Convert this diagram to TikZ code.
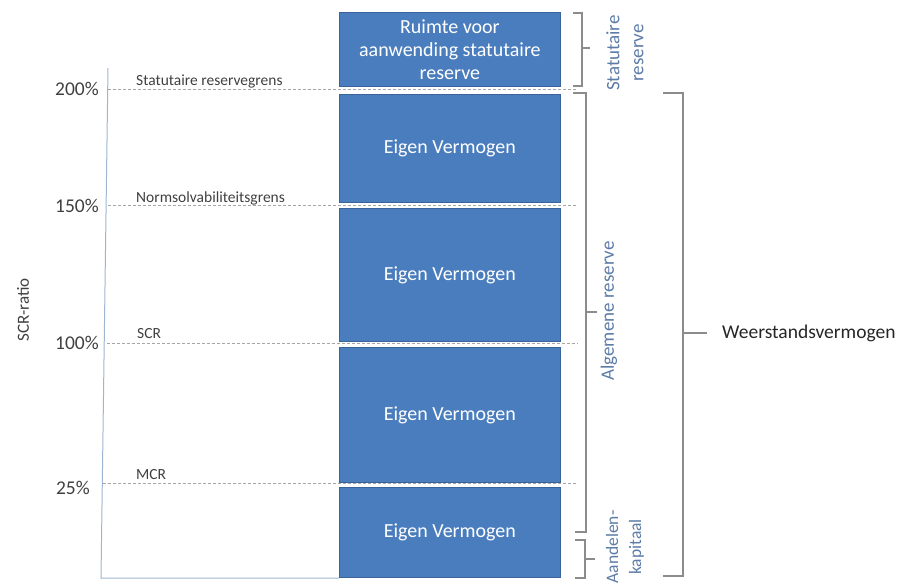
\documentclass[tikz,border=0pt]{standalone}
\usepackage{fontspec}
\setmainfont{Carlito}
\definecolor{boxblue}{HTML}{4A7DBD}
\definecolor{boxedge}{HTML}{3A6399}
\definecolor{bracegray}{HTML}{8C8C8C}
\definecolor{labblue}{HTML}{5C7BA6}
\definecolor{txtgray}{HTML}{404040}
\definecolor{axisblue}{HTML}{9FB6D3}
\definecolor{dashgray}{HTML}{A6A6A6}
\begin{document}
\begin{tikzpicture}[x=1pt,y=-1pt,
 blockbox/.style={draw=boxedge, line width=0.8pt, fill=boxblue, text=white, inner sep=0pt,
   anchor=north west, minimum width=221pt, align=center, font=\fontsize{20}{23}\selectfont},
 pct/.style={anchor=east, text=txtgray, inner sep=0pt, font=\fontsize{19.5}{22}\selectfont},
 grens/.style={anchor=west, text=txtgray, inner sep=0pt, font=\fontsize{15.5}{18}\selectfont},
 level/.style={draw=dashgray, dash pattern=on 3pt off 2pt, line width=0.8pt},
 bracket/.style={draw=bracegray, line width=1.1pt},
 sidelab/.style={rotate=90, text=labblue, align=center, inner sep=0pt, font=\fontsize{19}{24}\selectfont},
 axisline/.style={draw=axisblue, line width=1pt},
]
\useasboundingbox (0,0) rectangle (898,587);

% level lines (behind boxes)
\coordinate (l200a) at (108,89);  \coordinate (l200b) at (578,89);
\coordinate (l150a) at (108,205); \coordinate (l150b) at (578,205);
\coordinate (l100a) at (107,343); \coordinate (l100b) at (578,343);
\coordinate (l25a)  at (103,483); \coordinate (l25b)  at (578,483);
\draw[level] (l200a) -- (l200b);
\draw[level] (l150a) -- (l150b);
\draw[level] (l100a) -- (l100b);
\draw[level] (l25a) -- (l25b);

% boxes
\node[blockbox, minimum height=74pt]  (b1) at (339,12)  {Ruimte voor\\aanwending statutaire\\reserve};
\node[blockbox, minimum height=108pt] (b2) at (339,94)  {Eigen Vermogen};
\node[blockbox, minimum height=133pt] (b3) at (339,208) {Eigen Vermogen};
\node[blockbox, minimum height=135pt] (b4) at (339,347) {Eigen Vermogen};
\node[blockbox, minimum height=90pt]  (b5) at (339,487) {Eigen Vermogen};

% axis
\coordinate (axtop) at (108,68);
\coordinate (axbot) at (101,578);
\draw[axisline] (axtop) -- (axbot) -- (axbot -| b5.south west);

% percentages and level names
\node[pct] (p200) at (99,89)  {200\%};
\node[pct] (p150) at (99,206) {150\%};
\node[pct] (p100) at (99,343) {100\%};
\node[pct] (p25)  at (90,488) {25\%};
\node[grens] (g200) at (136,81)  {Statutaire reservegrens};
\node[grens] (g150) at (136,198) {Normsolvabiliteitsgrens};
\node[grens] (g100) at (137,334) {SCR};
\node[grens] (g25)  at (136,475) {MCR};
\node[rotate=90, text=txtgray, inner sep=0pt, font=\fontsize{17}{20}\selectfont] (ratio) at (23,310) {SCR-ratio};

% statutaire reserve bracket
\coordinate (s1) at (573,13); \coordinate (s2) at (582,13);
\coordinate (s3) at (582,86); \coordinate (s4) at (573,86);
\coordinate (sm) at (582,48); \coordinate (st) at (590,48);
\draw[bracket] (s1) -- (s2) -- (s3) -- (s4);
\draw[bracket] (sm) -- (st);
\node[sidelab] (stat) at (625,53) {Statutaire\\reserve};

% algemene reserve bracket
\coordinate (a1) at (573,93);  \coordinate (a2) at (586,93);
\coordinate (a3) at (586,532); \coordinate (a4) at (575,532);
\coordinate (am) at (586,312); \coordinate (at2) at (597,312);
\draw[bracket] (a1) -- (a2) -- (a3) -- (a4);
\draw[bracket] (am) -- (at2);
\node[sidelab] (alg) at (609,311) {Algemene reserve};

% aandelenkapitaal bracket
\coordinate (k1) at (575,540); \coordinate (k2) at (585,540);
\coordinate (k3) at (585,578); \coordinate (k4) at (575,578);
\coordinate (km) at (585,559); \coordinate (kt) at (595,559);
\draw[bracket] (k1) -- (k2) -- (k3) -- (k4);
\draw[bracket] (km) -- (kt);
\node[sidelab, font=\fontsize{17.5}{23}\selectfont] (aand) at (625,547) {Aandelen-\\kapitaal};

% weerstandsvermogen bracket
\coordinate (w1) at (663,93);  \coordinate (w2) at (683,93);
\coordinate (w3) at (683,576); \coordinate (w4) at (663,576);
\coordinate (wm) at (683,333);
\draw[bracket] (w1) -- (w2) -- (w3) -- (w4);
\node[anchor=west, text=black!85, inner sep=0pt, font=\fontsize{19.5}{22}\selectfont] (weer) at (722,333) {Weerstandsvermogen};
\draw[bracket] (wm) -- ([xshift=-15pt]weer.west);
\end{tikzpicture}
\end{document}
